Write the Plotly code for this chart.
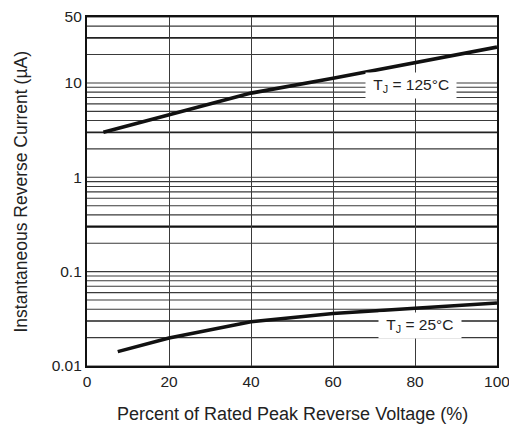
import plotly.graph_objects as go
import numpy as np

# Data
x_125 = [4, 20, 40, 60, 80, 100]
i_125 = [3.0, 4.6, 7.8, 11.2, 16.5, 24.0]

x_25 = [7.5, 20, 40, 60, 80, 100]
i_25 = [0.0142, 0.0198, 0.0295, 0.0360, 0.0410, 0.0465]

x_ticks = [0, 20, 40, 60, 80, 100]
y_ticks = [0.01, 0.1, 1, 10, 50]
y_tick_text = ["0.01", "0.1", "1", "10", "50"]

decades = [0.01, 0.1, 1, 10]
multipliers = [1, 2, 3, 4, 5, 6, 7, 8, 9]
heavy_values = [0.3]
medium_values = [0.03, 3, 30]

labels = ["T<sub>J</sub> = 125°C", "T<sub>J</sub> = 25°C"]
label_x = [79, 81.2]
label_y = [9.3, 0.0272]

x_title = "Percent of Rated Peak Reverse Voltage (%)"
y_title = "Instantaneous Reverse Current (µA)"

FONT = "Liberation Sans, Arial, sans-serif"
GRID = "#3a3a3a"

fig = go.Figure()

# horizontal grid lines (log minor grid)
shapes = []
for d in decades:
    for m in multipliers:
        v = d * m
        if v < 0.01 or v > 50:
            continue
        if any(abs(v - h) / h < 1e-6 for h in heavy_values):
            w = 2.4
            c = "#111"
        elif any(abs(v - h) / h < 1e-6 for h in medium_values):
            w = 1.7
            c = "#222"
        else:
            w = 1.1
            c = GRID
        shapes.append(dict(type="line", xref="paper", yref="y", x0=0, x1=1,
                           y0=v, y1=v, line=dict(color=c, width=w), layer="below"))

fig.add_trace(go.Scatter(x=x_125, y=i_125, mode="lines",
                         line=dict(color="#111", width=3.6), showlegend=False))
fig.add_trace(go.Scatter(x=x_25, y=i_25, mode="lines",
                         line=dict(color="#111", width=3.6), showlegend=False))

for t, lx, ly in zip(labels, label_x, label_y):
    fig.add_annotation(x=lx, y=np.log10(ly), text="\u00a0" + t + "\u00a0",
                       showarrow=False, bgcolor="white", borderpad=3,
                       font=dict(family=FONT, size=15.5, color="#222"))

fig.add_annotation(xref="paper", yref="paper", x=0.5, y=-0.1375,
                   text=x_title, showarrow=False, xanchor="center",
                   yanchor="middle", font=dict(family=FONT, size=18, color="#222"))
fig.add_annotation(xref="paper", yref="paper", x=-0.161, y=0.5,
                   text=y_title, showarrow=False, xanchor="center",
                   yanchor="middle", textangle=-90,
                   font=dict(family=FONT, size=17.5, color="#222"))

fig.update_layout(
    template="none",
    width=509, height=425,
    margin=dict(l=87, r=12, t=17, b=59, autoexpand=False),
    paper_bgcolor="white", plot_bgcolor="white",
    shapes=shapes,
    showlegend=False,
    font=dict(family=FONT, size=15.5, color="#222"),
    xaxis=dict(range=[0, 100], tickvals=x_ticks, showgrid=True,
               gridcolor=GRID, gridwidth=1.1, showline=True, linecolor="#111",
               linewidth=2.2, mirror=True, ticks="", zeroline=False,
               automargin=False, ticklabeloverflow="allow",
               tickfont=dict(size=15.5)),
    yaxis=dict(type="log", range=[-2, np.log10(50)], tickvals=y_ticks,
               ticktext=y_tick_text, showgrid=False, showline=True,
               linecolor="#111", linewidth=2.2, mirror=True, ticks="",
               zeroline=False, automargin=False, ticklabeloverflow="allow",
               tickfont=dict(size=15.5)),
)

fig.write_html("out.html")
